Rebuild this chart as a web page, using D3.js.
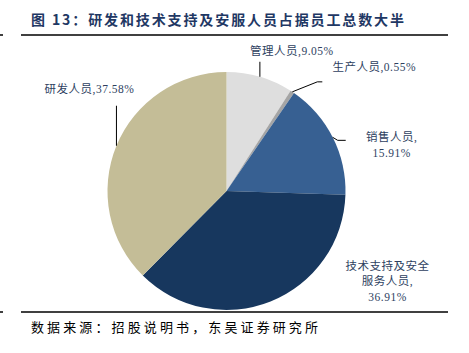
<!DOCTYPE html>
<html>
<head>
<meta charset="utf-8">
<script src="https://cdn.jsdelivr.net/npm/d3@7"></script>
<style>
  body { margin: 0; background: #fff; }
  svg { display: block; }
</style>
</head>
<body>
<div id="container"></div>
<script>
/* CONSTANTS AND GLOBALS */
const width = 469,
  height = 353;

// DATA
const categories = ["管理人员", "生产人员", "销售人员", "技术支持及安全服务人员", "研发人员"];
const shares = [9.05, 0.55, 15.91, 36.91, 37.58];
const labelLines = [
  ["管理人员,9.05%"],
  ["生产人员,0.55%"],
  ["销售人员,", "15.91%"],
  ["技术支持及安全", "服务人员,", "36.91%"],
  ["研发人员,37.58%"]
];
const colors = ["#dedede", "#a5a5a5", "#376092", "#17375e", "#c4bd97"];

// leader path offsets from slice edge point, and label anchor offset
const leaders = [
  { pts: [[0, 0], [0, -15]], label: [32, -22] },
  { pts: [[0, 0], [25, -10], [30, -10]], label: [82, -21] },
  { pts: [[0, 0], [5, 3], [13, 3]], label: [59, 4] },
  { pts: null, label: [117, -32] },
  { pts: [[0, 0], [0, -40]], label: [-27, -53] }
];

const data = categories.map((c, i) => ({ name: c, value: shares[i], lines: labelLines[i] }));

const svg = d3.select("#container")
  .append("svg")
  .attr("width", width)
  .attr("height", height);

// Title
svg.append("text")
  .attr("x", 31)
  .attr("y", 25)
  .attr("textLength", 373)
  .attr("lengthAdjust", "spacing")
  .style("font-family", "'Noto Sans CJK SC', sans-serif")
  .style("font-weight", "bold")
  .style("font-size", "14px")
  .style("fill", "#1f3864")
  .text("图 13：研发和技术支持及安服人员占据员工总数大半");

// rules
[35, 312].forEach(y => {
  svg.append("line")
    .attr("x1", 21).attr("x2", 448)
    .attr("y1", y).attr("y2", y)
    .attr("stroke", "#000").attr("stroke-width", 1.5);
  svg.append("line")
    .attr("x1", 0).attr("x2", 3)
    .attr("y1", y).attr("y2", y)
    .attr("stroke", "#000").attr("stroke-width", 1.5);
});

// Source
svg.append("text")
  .attr("x", 31)
  .attr("y", 332)
  .attr("textLength", 287)
  .attr("lengthAdjust", "spacing")
  .style("font-family", "'Noto Sans CJK SC', sans-serif")
  .style("font-size", "13px")
  .style("fill", "#000")
  .text("数据来源：招股说明书，东吴证券研究所");

// Pie
const cx = 226.5, cy = 191, r = 119;

const pie = d3.pie().sort(null).value(d => d.value);
const arcs = pie(data);
const arcGen = d3.arc().innerRadius(0).outerRadius(r);
const edgeArc = d3.arc().innerRadius(r).outerRadius(r);

const g = svg.append("g").attr("transform", `translate(${cx},${cy})`);

g.selectAll("path.slice")
  .data(arcs)
  .join("path")
  .attr("class", "slice")
  .attr("d", arcGen)
  .attr("fill", (d, i) => colors[i]);

// Leader lines
arcs.forEach((a, i) => {
  const [ex, ey] = edgeArc.centroid(a);
  const L = leaders[i];
  if (L.pts) {
    g.append("path")
      .attr("d", d3.line()(L.pts.map(p => [ex + p[0], ey + p[1]])))
      .attr("fill", "none")
      .attr("stroke", "#000")
      .attr("stroke-width", 1);
  }
  const t = g.append("text")
    .attr("x", ex + L.label[0])
    .attr("y", ey + L.label[1])
    .attr("text-anchor", "middle")
    .style("font-family", "'Liberation Serif', 'Noto Sans CJK SC', serif")
    .style("font-size", "11.5px")
    .style("letter-spacing", "0.5px")
    .style("fill", "#2e3f5f");
  a.data.lines.forEach((ln, j) => {
    t.append("tspan")
      .attr("x", ex + L.label[0])
      .attr("dy", j === 0 ? 0 : 15.5)
      .text(ln);
  });
});
</script>
</body>
</html>
